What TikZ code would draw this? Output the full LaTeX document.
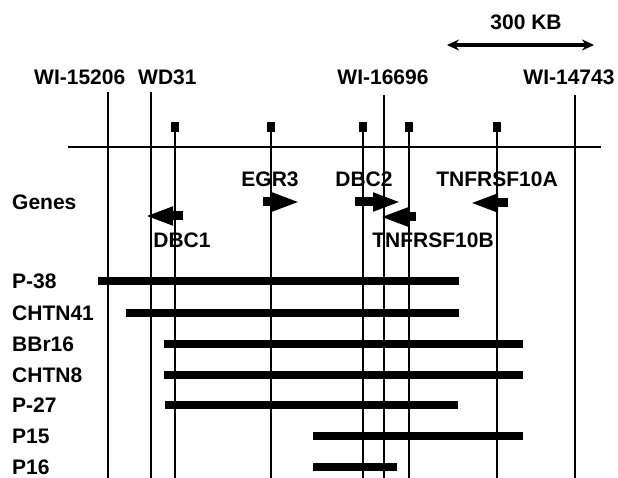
\documentclass[tikz,border=0pt]{standalone}
\usepackage{fontspec}
\setmainfont{Liberation Sans}
\usetikzlibrary{arrows.meta}
\begin{document}
\begin{tikzpicture}[x=1pt,y=-1pt,
  lbl/.style={font=\fontsize{21}{24}\selectfont\bfseries, inner sep=0pt},
  vline/.style={line width=1.1pt},
  mainline/.style={line width=2pt},
  sq/.style={fill=black, inner sep=0pt, minimum width=8pt, minimum height=10pt},
  bar/.style={line width=8pt},
  garrow/.style={line width=9pt, -{Triangle[length=28pt 0 0, width=17pt 0 0]}},
  scalearrow/.style={line width=3.5pt, {Stealth[length=12pt 0 0,width=11pt 0 0]}-{Stealth[length=12pt 0 0,width=11pt 0 0]}}
]
\useasboundingbox (0,0) rectangle (618,478);

% scale bar
\node[lbl, anchor=base] (kb) at (526,30) {300 KB};
\coordinate (kbl) at (447,45);
\coordinate (kbr) at (594,45);
\draw[scalearrow] (kbl) -- (kbr);

% marker labels
\node[lbl, anchor=base west] (wi15206) at (34,85) {WI-15206};
\node[lbl, anchor=base west] (wd31) at (138,85) {WD31};
\node[lbl, anchor=base] (wi16696) at (383,85) {WI-16696};
\node[lbl, anchor=base] (wi14743) at (569,85) {WI-14743};

% main line
\coordinate (ml) at (68,147);
\coordinate (mr) at (601,147);
\draw[mainline] (ml) -- (mr);

% marker vertical lines
\coordinate (t1) at (108,92);  \coordinate (b1) at (108,478);
\coordinate (t2) at (151,92);  \coordinate (b2) at (151,478);
\coordinate (t3) at (384,95);  \coordinate (b3) at (384,478);
\coordinate (t4) at (575,95);  \coordinate (b4) at (575,478);
\draw[vline] (t1) -- (b1);
\draw[vline] (t2) -- (b2);
\draw[vline] (t3) -- (b3);
\draw[vline] (t4) -- (b4);

% gene squares and lines
\node[sq] (s1) at (175,127) {};
\node[sq] (s2) at (271,127) {};
\node[sq] (s3) at (363,127) {};
\node[sq] (s4) at (409,127) {};
\node[sq] (s5) at (497,127) {};
\coordinate (e1) at (175,478);
\coordinate (e2) at (271,478);
\coordinate (e3) at (363,478);
\coordinate (e4) at (409,478);
\coordinate (e5) at (497,478);
\draw[vline] (s1.center) -- (e1);
\draw[vline] (s2.center) -- (e2);
\draw[vline] (s3.center) -- (e3);
\draw[vline] (s4.center) -- (e4);
\draw[vline] (s5.center) -- (e5);

% gene labels
\node[lbl, anchor=base west] (genes) at (12,210) {Genes};
\node[lbl, anchor=base] (egr3) at (270,187) {EGR3};
\node[lbl, anchor=base] (dbc2) at (364,187) {DBC2};
\node[lbl, anchor=base] (tnf10a) at (497,187) {TNFRSF10A};
\node[lbl, anchor=base] (dbc1) at (182,248) {DBC1};
\node[lbl, anchor=base] (tnf10b) at (433,248) {TNFRSF10B};

% gene arrows
\coordinate (a1s) at (183,216); \coordinate (a1e) at (145,216);
\coordinate (a2s) at (263,202); \coordinate (a2e) at (300,202);
\coordinate (a3s) at (355,202); \coordinate (a3e) at (401,202);
\coordinate (a4s) at (416,217); \coordinate (a4e) at (380,217);
\coordinate (a5s) at (508,203); \coordinate (a5e) at (470,203);
\draw[garrow] (a1s) -- (a1e);
\draw[garrow] (a2s) -- (a2e);
\draw[garrow] (a3s) -- (a3e);
\draw[garrow] (a4s) -- (a4e);
\draw[garrow] (a5s) -- (a5e);

% clones
\node[lbl, anchor=base west] (p38) at (12,288) {P-38};
\node[lbl, anchor=base west] (chtn41) at (12,320) {CHTN41};
\node[lbl, anchor=base west] (bbr16) at (12,351) {BBr16};
\node[lbl, anchor=base west] (chtn8) at (12,382) {CHTN8};
\node[lbl, anchor=base west] (p27) at (12,412) {P-27};
\node[lbl, anchor=base west] (p15) at (12,443) {P15};
\node[lbl, anchor=base west] (p16) at (12,474) {P16};

\coordinate (c1a) at (98,281);  \coordinate (c1b) at (459,281);
\coordinate (c2a) at (126,313); \coordinate (c2b) at (459,313);
\coordinate (c3a) at (164,344); \coordinate (c3b) at (523,344);
\coordinate (c4a) at (164,375); \coordinate (c4b) at (523,375);
\coordinate (c5a) at (165,405); \coordinate (c5b) at (458,405);
\coordinate (c6a) at (313,436); \coordinate (c6b) at (523,436);
\coordinate (c7a) at (313,467); \coordinate (c7b) at (397,467);
\draw[bar] (c1a) -- (c1b);
\draw[bar] (c2a) -- (c2b);
\draw[bar] (c3a) -- (c3b);
\draw[bar] (c4a) -- (c4b);
\draw[bar] (c5a) -- (c5b);
\draw[bar] (c6a) -- (c6b);
\draw[bar] (c7a) -- (c7b);
\end{tikzpicture}
\end{document}
